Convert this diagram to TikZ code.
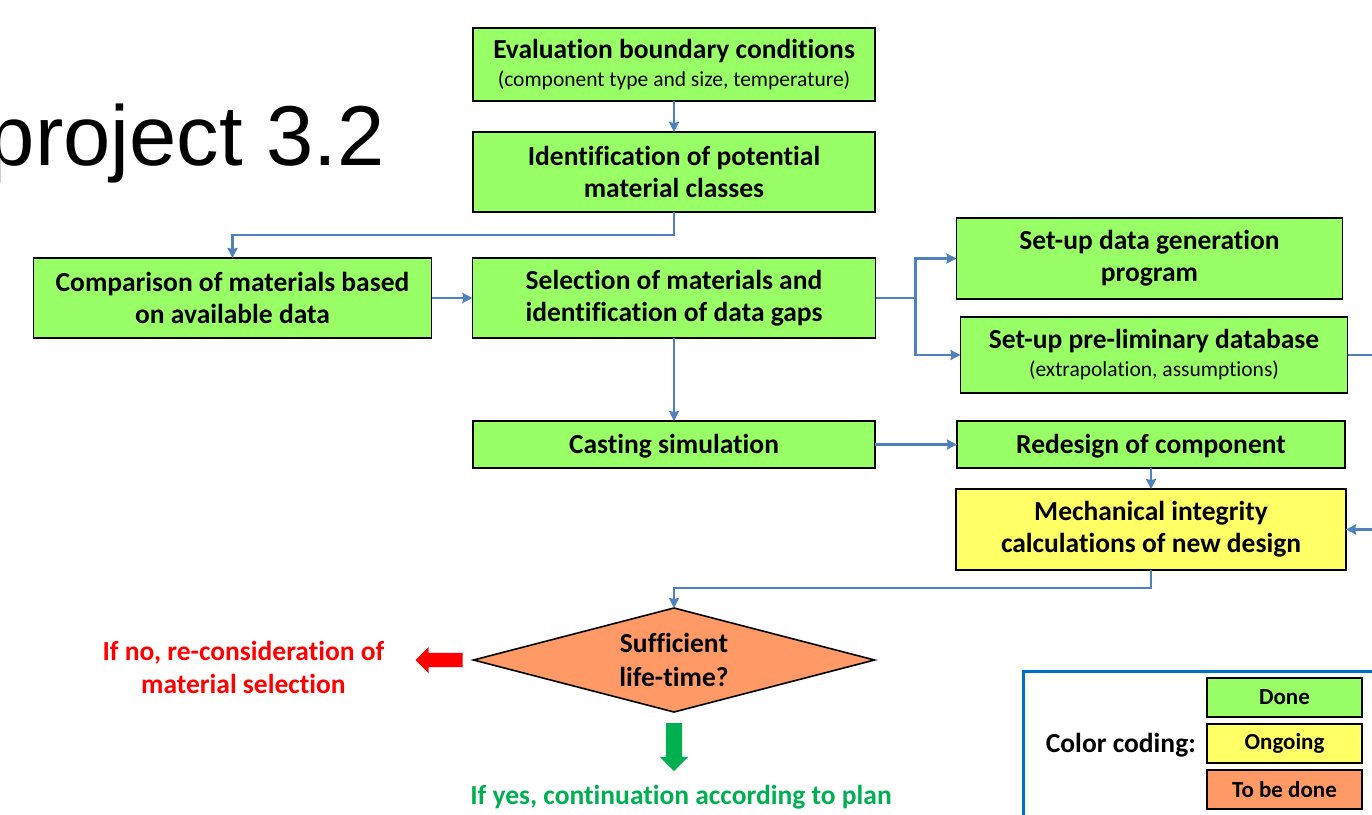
\documentclass[tikz,border=0pt]{standalone}
\usepackage{fontspec}
\setmainfont{Carlito}[Ligatures=CommonOff]
\newfontfamily\titlefont{Liberation Sans}
\usetikzlibrary{shapes.geometric,shapes.arrows,arrows.meta,positioning}
\definecolor{donegreen}{RGB}{153,255,102}
\definecolor{ongoingyellow}{RGB}{255,255,102}
\definecolor{todoorange}{RGB}{255,153,102}
\definecolor{linkblue}{RGB}{79,129,189}
\definecolor{yesgreen}{RGB}{0,176,80}
\definecolor{frameblue}{RGB}{0,112,192}
\newcommand{\boxfont}{\bfseries\fontsize{27.5}{32}\selectfont}
\newcommand{\subfont}{\mdseries\fontsize{21.5}{26}\selectfont}
\tikzset
{
    process/.style={rectangle, draw=black, line width=1.6pt, fill=donegreen, align=center, font=\boxfont, inner sep=0pt, outer sep=0pt, minimum width=#1, execute at begin node={\rule{0pt}{23pt}}},
    process/.default=402pt,
    decision/.style={diamond, draw=black, line width=1.6pt, fill=todoorange, align=center, font=\boxfont, inner sep=0pt, outer sep=0pt, aspect=3.86, minimum width=401pt, minimum height=104pt},
    legendbox/.style={rectangle, draw=black, line width=1.6pt, fill=#1, font=\bfseries\fontsize{23}{26}\selectfont, inner sep=0pt, outer sep=0pt, minimum width=155pt, minimum height=39pt},
    arrow/.style={line width=2.5pt, draw=linkblue, -{Stealth[length=10pt,width=10pt,inset=1pt]}},
    link/.style={line width=2.5pt, draw=linkblue},
    fatarrow/.style={single arrow, draw=none, fill=#1, outer sep=0pt, single arrow head extend=6pt, single arrow head indent=0pt},
    note/.style={align=center, font=\boxfont, inner sep=0pt}
}

\begin{document}
\begin{tikzpicture}[x=1pt, y=-1pt]
	\useasboundingbox (0,0) rectangle (1372,814);

	\node (title) [anchor=base east, inner sep=0pt, font=\titlefont\fontsize{85}{85}\selectfont] at (385,165) {project 3.2};

	\node (eval) [process, minimum height=73pt] at (674,64.5) {Evaluation boundary conditions\\[-4pt] {\subfont (component type and size, temperature)}};
	\node (ident) [process, minimum height=80pt, below=31pt of eval] {Identification of potential\\material classes};
	\node (select) [process=403pt, minimum height=80pt, below=46pt of ident] {Selection of materials and\\identification of data gaps};
	\node (compare) [process=398pt, minimum height=80pt, left=41pt of select] {Comparison of materials based\\on available data};
	\node (datagen) [process=386pt, minimum height=81pt, right=81pt of select, yshift=39.5pt] {Set-up data generation\\program};
	\node (prelim) [process=387pt, minimum height=76pt, right=85pt of select, yshift=-57pt] {Set-up pre-liminary database\\[-4pt] {\subfont (extrapolation, assumptions)}};
	\node (casting) [process, minimum height=47pt, below=83pt of select] {Casting simulation};
	\node (redesign) [process=388pt, minimum height=47pt, right=82pt of casting] {Redesign of component};
	\node (mech) [process=390pt, minimum height=81pt, fill=ongoingyellow, below=21pt of redesign] {Mechanical integrity\\calculations of new design};
	\node (life) [decision, below=140pt of casting] {Sufficient\\[2pt]life-time?};

	\node (noarrow) [fatarrow=red, inner sep=7pt, shape border rotate=180, minimum height=47pt, left=11pt of life] {};
	\node (notext) [note, text=red, left=31pt of noarrow, yshift=-7pt] {If no, re-consideration of\\[1pt]material selection};
	\node (yesarrow) [fatarrow=yesgreen, inner sep=8pt, shape border rotate=270, minimum height=48pt, below=11pt of life] {};
	\node (yestext) [note, text=yesgreen, below=14pt of yesarrow, xshift=7pt] {If yes, continuation according to plan};

	\coordinate (split) at ([xshift=40pt]select.east);
	\coordinate (outprelim) at ([xshift=40pt]prelim.east);
	\coordinate (inmech) at ([xshift=40pt]mech.east);

	\draw [arrow] (eval) -- (ident);
	\draw [arrow] (ident.south) -- ++(0,23) -| (compare.north);
	\draw [arrow] (compare) -- (select);
	\draw [link] (select.east) -- (split);
	\draw [arrow] (split) |- (datagen.west);
	\draw [arrow] (split) |- (prelim.west);
	\draw [link] (prelim.east) -- (outprelim);
	\draw [arrow] (select) -- (casting);
	\draw [arrow] (casting) -- (redesign);
	\draw [arrow] (redesign) -- (mech);
	\draw [arrow] (inmech) -- (mech.east);
	\draw [arrow] (mech.south) -- ++(0,18) -| (life.north);

	% legend
	\node (legend) [draw=frameblue, line width=2.5pt, anchor=north west, minimum width=400pt, minimum height=200pt] at (1022,670) {};
	\node (done) [legendbox=donegreen] at (1284.5,697.5) {Done};
	\node (ongoing) [legendbox=ongoingyellow, below=7pt of done] {Ongoing};
	\node (tobedone) [legendbox=todoorange, below=7pt of ongoing] {To be done};
	\node (coding) [note, left=11pt of ongoing, yshift=-2pt] {Color coding:};

\end{tikzpicture}
\end{document}
